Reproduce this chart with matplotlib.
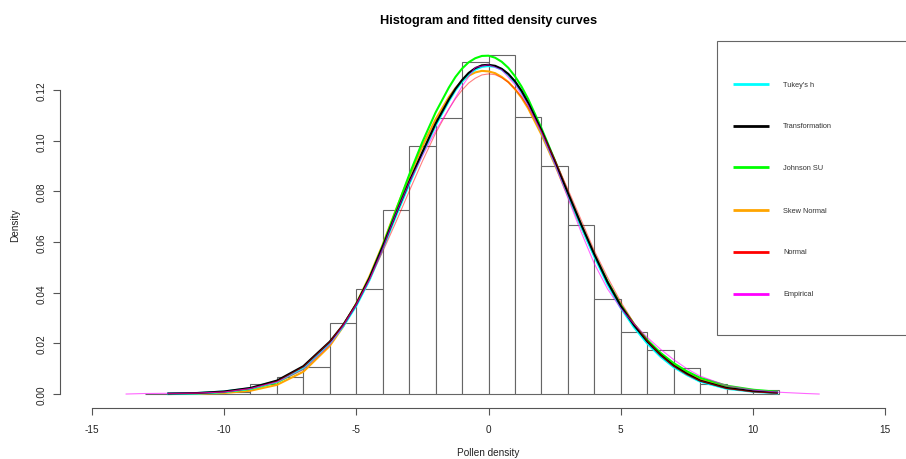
import matplotlib
matplotlib.use("Agg")
import matplotlib.pyplot as plt
from matplotlib.patches import Rectangle

plt.rcParams['font.family'] = ['Liberation Sans', 'DejaVu Sans']

# histogram (density scale, bins of width 1)
bin_left = list(range(-13, 11))
bin_height = [0.0002, 0.0003, 0.0004, 0.0009, 0.0038, 0.0069, 0.0108, 0.0279,
              0.0413, 0.0728, 0.0980, 0.1089, 0.1311, 0.1337, 0.1093, 0.0899,
              0.0667, 0.0374, 0.0246, 0.0175, 0.0103, 0.0040, 0.0019, 0.0015]

# fitted curves
fit_x = [-12.1, -11, -10, -9, -8, -7, -6, -5.5, -5, -4.5, -4, -3.5, -3, -2.5,
         -2, -1.5, -1.25, -1, -0.75, -0.5, -0.25, 0, 0.25, 0.5, 0.75, 1, 1.25,
         1.5, 2, 2.5, 3, 3.5, 4, 4.5, 5, 5.5, 6, 6.5, 7, 7.5, 8, 9, 10, 10.9]
tukey_h = [0.0001, 0.0003, 0.0009, 0.0022, 0.0050, 0.0105, 0.0202, 0.0268,
           0.0350, 0.0452, 0.0575, 0.0705, 0.0830, 0.0950, 0.1062, 0.1158,
           0.1201, 0.1235, 0.1263, 0.1282, 0.1293, 0.1296, 0.1293, 0.1282,
           0.1261, 0.1232, 0.1194, 0.1147, 0.1038, 0.0917, 0.0790, 0.0663,
           0.0545, 0.0435, 0.0342, 0.0265, 0.0201, 0.0149, 0.0107, 0.0076,
           0.0050, 0.0022, 0.0010, 0.0004]
transformation = [0.0002, 0.0004, 0.0010, 0.0024, 0.0053, 0.0110, 0.0207, 0.0272,
                  0.0355, 0.0458, 0.0582, 0.0712, 0.0838, 0.0955, 0.1068, 0.1163,
                  0.1205, 0.1240, 0.1268, 0.1287, 0.1298, 0.1300, 0.1296, 0.1284,
                  0.1264, 0.1235, 0.1197, 0.1150, 0.1042, 0.0922, 0.0795, 0.0670,
                  0.0552, 0.0442, 0.0348, 0.0272, 0.0208, 0.0155, 0.0112, 0.0080,
                  0.0053, 0.0024, 0.0011, 0.0005]
johnson_su = [0.0001, 0.0003, 0.0008, 0.0020, 0.0046, 0.0100, 0.0200, 0.0270,
              0.0355, 0.0458, 0.0585, 0.0725, 0.0865, 0.0995, 0.1112, 0.1210,
              0.1252, 0.1285, 0.1310, 0.1326, 0.1335, 0.1336, 0.1328, 0.1312,
              0.1288, 0.1255, 0.1214, 0.1165, 0.1050, 0.0925, 0.0795, 0.0670,
              0.0552, 0.0445, 0.0352, 0.0277, 0.0214, 0.0163, 0.0122, 0.0090,
              0.0064, 0.0033, 0.0017, 0.0009]
skew_normal = [0.0000, 0.0001, 0.0004, 0.0013, 0.0036, 0.0088, 0.0190, 0.0265,
               0.0357, 0.0465, 0.0590, 0.0728, 0.0858, 0.0978, 0.1085, 0.1172,
               0.1208, 0.1236, 0.1257, 0.1270, 0.1276, 0.1274, 0.1267, 0.1252,
               0.1232, 0.1204, 0.1170, 0.1128, 0.1025, 0.0908, 0.0784, 0.0662,
               0.0547, 0.0442, 0.0351, 0.0275, 0.0212, 0.0160, 0.0118, 0.0085,
               0.0059, 0.0027, 0.0012, 0.0006]
normal = [0.0001, 0.0003, 0.0008, 0.0021, 0.0050, 0.0107, 0.0206, 0.0274,
          0.0357, 0.0453, 0.0562, 0.0679, 0.0800, 0.0919, 0.1030, 0.1125,
          0.1166, 0.1200, 0.1228, 0.1247, 0.1260, 0.1264, 0.1261, 0.1249,
          0.1231, 0.1205, 0.1173, 0.1133, 0.1038, 0.0928, 0.0809, 0.0688,
          0.0566, 0.0461, 0.0364, 0.0280, 0.0210, 0.0154, 0.0110, 0.0076,
          0.0052, 0.0022, 0.0008, 0.0003]

emp_x = [-13.7, -13, -12, -11, -10, -9, -8, -7, -6, -5.5, -5, -4.5, -4, -3.5,
         -3, -2.5, -2, -1.5, -1, -0.5, 0, 0.5, 1, 1.5, 2, 2.5, 3, 3.5, 4, 4.5,
         5, 5.5, 6, 6.5, 7, 7.5, 8, 9, 10, 11, 12, 12.5]
empirical = [0.0000, 0.0002, 0.0003, 0.0004, 0.0008, 0.0022, 0.0047, 0.0097,
             0.0195, 0.0268, 0.0352, 0.0452, 0.0575, 0.0712, 0.0835, 0.0940,
             0.1040, 0.1125, 0.1215, 0.1290, 0.1300, 0.1280, 0.1222, 0.1140,
             0.1032, 0.0910, 0.0775, 0.0640, 0.0515, 0.0415, 0.0338, 0.0277,
             0.0224, 0.0177, 0.0136, 0.0100, 0.0071, 0.0033, 0.0016, 0.0007,
             0.0002, 0.0000]

legend_names = ["Tukey's h", "Transformation", "Johnson SU", "Skew Normal", "Normal", "Empirical"]
legend_colors = ["#00FFFF", "black", "#00FF00", "#FFA500", "#FF0000", "#FF00FF"]

W, H = 906, 460
fig = plt.figure(figsize=(W / 100, H / 100), dpi=100)
# plot region (R style), right edge runs past the picture
ax = fig.add_axes([60 / W, (H - 408.6) / H, (917 - 60) / W, (408.6 - 42) / H])
ax.set_xlim(-16.2, 16.2)
ax.set_ylim(-0.00536, 0.1394)

ax.bar(bin_left, bin_height, width=1, align='edge', facecolor='white',
       edgecolor='#666666', linewidth=0.8, zorder=1)

ax.plot(fit_x, skew_normal, color="#FFA500", lw=1.5, zorder=2)
ax.plot(fit_x, johnson_su, color="#00FF00", lw=1.5, zorder=3)
ax.plot(fit_x, tukey_h, color="#00FFFF", lw=1.9, zorder=4)
ax.plot(fit_x, transformation, color="black", lw=1.5, zorder=5)
ax.plot(fit_x, normal, color="#FF0000", lw=0.8, alpha=0.5, zorder=6)
ax.plot(emp_x, empirical, color="#FF00FF", lw=0.8, alpha=0.6, zorder=6)

for s in ['top', 'right']:
    ax.spines[s].set_visible(False)
ax.spines['left'].set_bounds(0, 0.12)
ax.spines['bottom'].set_bounds(-15, 15)
for s in ['left', 'bottom']:
    ax.spines[s].set_color('#555555')
    ax.spines[s].set_linewidth(0.8)

ax.set_xticks([-15, -10, -5, 0, 5, 10, 15])
ax.set_xticklabels(['-15', '-10', '-5', '0', '5', '10', '15'])
ax.set_yticks([0, 0.02, 0.04, 0.06, 0.08, 0.10, 0.12])
ax.set_yticklabels(['0.00', '0.02', '0.04', '0.06', '0.08', '0.10', '0.12'],
                   rotation=90, va='center')
ax.tick_params(axis='both', length=5, width=0.8, color='#555555',
               labelsize=7.2, labelcolor='#222222')
ax.tick_params(axis='x', pad=7)
ax.tick_params(axis='y', pad=4.5)

ax.set_title("Histogram and fitted density curves", fontsize=9.2,
             fontweight='bold', pad=13)
ax.set_xlabel("Pollen density", fontsize=7.2, labelpad=9, color='#222222')
ax.set_ylabel("Density", fontsize=7.2, labelpad=12, color='#222222')

# legend box drawn in axes fractions
box = Rectangle((0.7666, 0.198), 0.2334, 0.802, transform=ax.transAxes,
                facecolor='white', edgecolor='#666666', lw=0.8, zorder=7,
                clip_on=False)
ax.add_patch(box)
row_y = [0.8827, 0.769, 0.6555, 0.539, 0.4253, 0.31]
for name, col, yy in zip(legend_names, legend_colors, row_y):
    ax.plot([0.785, 0.827], [yy, yy], color=col, lw=2, transform=ax.transAxes,
            zorder=8, solid_capstyle='butt')
    ax.text(0.8436, yy, name, transform=ax.transAxes, fontsize=5.3,
            va='center', ha='left', color='#333333', zorder=8)

fig.savefig("out.png", dpi=100)
